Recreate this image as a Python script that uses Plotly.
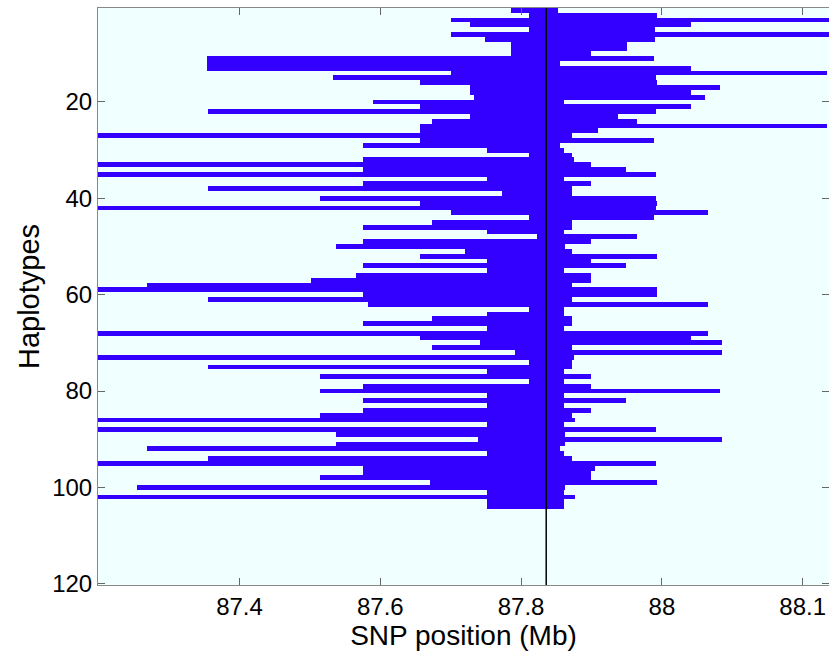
import plotly.graph_objects as go

# Haplotype index (rows, top to bottom)
haplotypes = list(range(1, 105))

# Left extent of each haplotype (Mb); values < axis start are clipped at the left border
left_mb = [
    87.785, 87.811, 87.701, 87.727, 87.811, 87.701, 87.749, 87.785, 87.785, 87.785,
    87.354, 87.354, 87.354, 87.701, 87.533, 87.657, 87.727, 87.727, 87.733, 87.589,
    87.657, 87.355, 87.727, 87.674, 87.657, 87.657, 87.150, 87.657, 87.575, 87.751,
    87.811, 87.575, 87.150, 87.575, 87.150, 87.751, 87.575, 87.355, 87.773, 87.514,
    87.657, 87.150, 87.701, 87.811, 87.674, 87.575, 87.751, 87.823, 87.575, 87.537,
    87.721, 87.657, 87.751, 87.575, 87.751, 87.565, 87.501, 87.269, 87.150, 87.575,
    87.355, 87.583, 87.811, 87.751, 87.674, 87.575, 87.751, 87.150, 87.657, 87.741,
    87.674, 87.791, 87.150, 87.811, 87.355, 87.751, 87.514, 87.811, 87.575, 87.514,
    87.751, 87.575, 87.751, 87.575, 87.514, 87.150, 87.751, 87.150, 87.537, 87.739,
    87.537, 87.269, 87.751, 87.355, 87.150, 87.575, 87.575, 87.514, 87.671, 87.255,
    87.751, 87.150, 87.751, 87.751,
]

# Right extent of each haplotype (Mb)
right_mb = [
    87.853, 87.993, 88.250, 88.041, 87.990, 88.250, 87.990, 87.950, 87.950, 87.899,
    87.989, 87.855, 88.041, 88.235, 87.991, 87.993, 88.083, 88.041, 88.061, 87.861,
    88.041, 87.991, 87.937, 87.965, 88.235, 87.909, 87.873, 87.989, 87.855, 87.861,
    87.873, 87.875, 87.899, 87.949, 87.991, 87.861, 87.899, 87.873, 87.873, 87.991,
    87.993, 87.991, 88.065, 87.989, 87.873, 87.873, 87.861, 87.965, 87.899, 87.863,
    87.873, 87.993, 87.899, 87.949, 87.861, 87.899, 87.899, 87.873, 87.993, 87.993,
    87.873, 88.065, 87.861, 87.861, 87.873, 87.873, 87.861, 88.065, 88.041, 88.085,
    87.873, 88.085, 87.875, 87.873, 87.873, 87.861, 87.899, 87.861, 87.899, 88.083,
    87.861, 87.949, 87.861, 87.899, 87.873, 87.877, 87.861, 87.991, 87.863, 88.085,
    87.863, 87.855, 87.861, 87.873, 87.991, 87.905, 87.899, 87.899, 87.993, 87.863,
    87.861, 87.877, 87.861, 87.861,
]

core_snp_mb = 87.8357

x_tickvals = [87.4, 87.6, 87.8, 88.0, 88.2]
x_ticktext = ["87.4", "87.6", "87.8", "88", "88.1"]
y_tickvals = [20, 40, 60, 80, 100, 120]

BLUE = "rgb(51,0,255)"

fig = go.Figure()
fig.add_trace(go.Bar(
    y=haplotypes,
    x=[r - l for l, r in zip(left_mb, right_mb)],
    base=left_mb,
    orientation="h",
    width=1.0,
    marker=dict(color=BLUE, line=dict(width=0)),
    showlegend=False,
    hoverinfo="skip",
))

fig.add_shape(type="line", xref="x", yref="paper",
              x0=core_snp_mb, x1=core_snp_mb, y0=0, y1=1,
              line=dict(color="black", width=1.5))

font = "Liberation Sans, Arial, Helvetica, sans-serif"
fig.update_layout(
    width=829, height=656,
    margin=dict(l=98, r=0, t=8, b=71),
    paper_bgcolor="white",
    plot_bgcolor="#F0FFFF",
    bargap=0,
    font=dict(family=font, color="black"),
)
fig.update_xaxes(
    range=[87.1990, 88.2374],
    tickvals=x_tickvals, ticktext=x_ticktext,
    ticks="inside", ticklen=7, tickcolor="#666",
    showline=True, linecolor="#888", linewidth=1, mirror="ticks",
    showgrid=False, zeroline=False,
    tickfont=dict(size=24),
    title=dict(text="SNP position (Mb)", font=dict(size=28), standoff=4),
)
fig.update_yaxes(
    range=[120.25, 0.5],
    tickvals=y_tickvals,
    ticks="inside", ticklen=7, tickcolor="#666",
    showline=True, linecolor="#888", linewidth=1, mirror="ticks",
    showgrid=False, zeroline=False,
    tickfont=dict(size=24),
    title=dict(text="Haplotypes", font=dict(size=29), standoff=4),
)

fig.write_html("out.html")
